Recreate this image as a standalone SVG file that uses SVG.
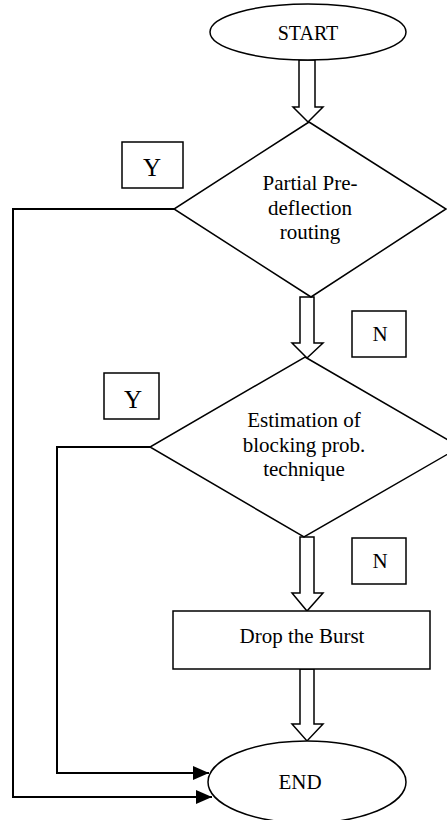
<svg xmlns="http://www.w3.org/2000/svg" width="447" height="820" viewBox="0 0 447 820">
<style>
.s{fill:#fff;stroke:#000;stroke-width:1.5}
.l{fill:none;stroke:#000;stroke-width:2}
text{font-family:'Liberation Serif','Times New Roman','DejaVu Serif',serif;text-anchor:middle;fill:#000}
.t{font-size:21px}
.lab{font-size:20px}
.big{font-size:25px}
</style>
<defs>
<marker id="ah" markerWidth="16" markerHeight="14" refX="16" refY="7" orient="auto" markerUnits="userSpaceOnUse">
<path d="M0,0 L16,7 L0,14 Z" fill="#000"/>
</marker>
</defs>
<g id="connectors">
<path class="s" d="M299,60 L315,60 L315,107 L323,107 L308,122 L293,107 L299,107 Z"/>
<path class="s" d="M300,297 L314,297 L314,343 L323,343 L307,358 L292,343 L300,343 Z"/>
<path class="s" d="M300,537 L314,537 L314,593 L323,593 L307,611 L292,593 L300,593 Z"/>
<path class="s" d="M300,669 L314,669 L314,724 L323,724 L307,741 L292,724 L300,724 Z"/>
<path class="l" d="M174,209 L13,209 L13,797 L212,797" marker-end="url(#ah)"/>
<path class="l" d="M150,447 L57,447 L57,773 L209,773" marker-end="url(#ah)"/>
</g>
<g id="start">
<ellipse class="s" cx="308" cy="32" rx="98" ry="28"/>
<text class="lab" x="308" y="40">START</text>
</g>
<g id="decision1">
<path class="s" d="M309,122 L446,209 L311,297 L174,209 Z"/>
<text class="t" x="310" y="190">Partial Pre-</text>
<text class="t" x="310" y="215">deflection</text>
<text class="t" x="310" y="239">routing</text>
</g>
<g id="y1">
<rect class="s" x="122" y="142" width="61" height="46"/>
<text class="big" x="152" y="176">Y</text>
</g>
<g id="n1">
<rect class="s" x="352" y="311" width="54" height="46"/>
<text class="t" x="380" y="341">N</text>
</g>
<g id="decision2">
<path class="s" d="M305,357 L460,447 L304,537 L150,447 Z"/>
<text class="t" x="304" y="427">Estimation of</text>
<text class="t" x="304" y="452">blocking prob.</text>
<text class="t" x="304" y="476">technique</text>
</g>
<g id="y2">
<rect class="s" x="104" y="373" width="55" height="46"/>
<text class="big" x="133" y="408">Y</text>
</g>
<g id="n2">
<rect class="s" x="352" y="538" width="54" height="46"/>
<text class="t" x="380" y="568">N</text>
</g>
<g id="drop">
<rect class="s" x="173" y="611" width="257" height="58"/>
<text class="t" x="302" y="643">Drop the Burst</text>
</g>
<g id="end">
<ellipse class="s" cx="307" cy="782" rx="99" ry="41"/>
<text class="t" x="300" y="789">END</text>
</g>
</svg>
